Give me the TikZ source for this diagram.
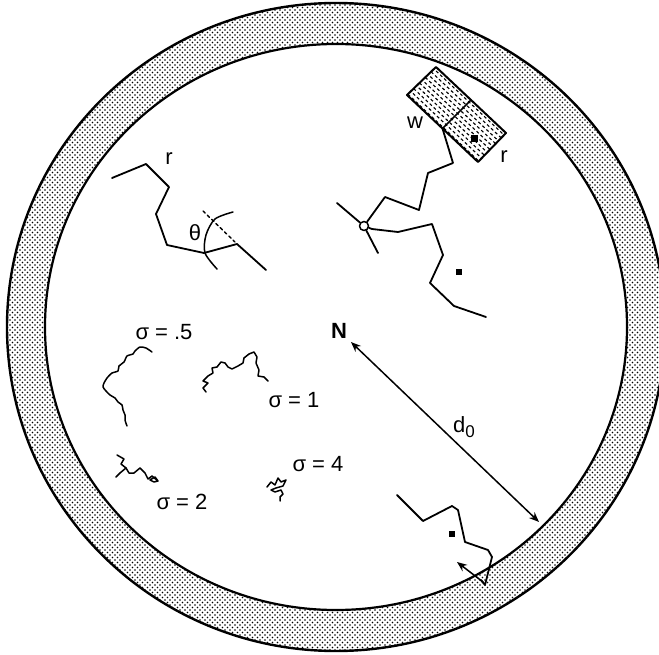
\documentclass[tikz,border=0pt]{standalone}
\usepackage{fontspec}
\setmainfont{Liberation Sans}
\usetikzlibrary{patterns,calc,arrows.meta}
\pgfdeclarepatternformonly{stipple}{\pgfpoint{-1pt}{-1pt}}{\pgfpoint{4pt}{4pt}}{\pgfpoint{5pt}{5pt}}{
  \pgfpathcircle{\pgfpoint{0pt}{0pt}}{0.8pt}
  \pgfpathcircle{\pgfpoint{2.5pt}{2.5pt}}{0.8pt}
  \pgfusepath{fill}}
\begin{document}
\begin{tikzpicture}[x=1pt,y=-1pt, line join=round, line cap=round,
  chain/.style={line width=1.8pt},
  wig/.style={line width=1.5pt},
  lbl/.style={font=\fontsize{22}{26}\selectfont, inner sep=0pt},
  tip/.style={line width=1.5pt},
  sq/.style={fill=black, minimum size=6pt, inner sep=0pt, draw=none}]
\useasboundingbox (0,0) rectangle (659,655);
\fill[white] (0,0) rectangle (659,655);
% ring
\fill[pattern=stipple, even odd rule]
  (336,327) ellipse [x radius=329, y radius=324]
  (336,327) ellipse [x radius=291, y radius=283];
\draw[line width=2.4pt] (336,327) ellipse [x radius=329, y radius=324];
\draw[line width=2.2pt] (336,327) ellipse [x radius=291, y radius=283];

% top-left chain with angle
\draw[chain] (112,178) -- (146,164) -- (169,187) -- (156,214) -- (167,245)
  -- (204,253) -- (237,244) -- (266,270);
\draw[line width=1.4pt, dash pattern=on 3pt off 3pt] (203,211) -- (235,242);
\draw[line width=1.5pt] plot[smooth] coordinates {(233,212) (215,219) (206,235) (205,253) (217,269)};
\node[lbl] (r1) at (169,159) {r};
\node[lbl] (th) at (195,233) {θ};

% top-right: rectangle with dashes
\coordinate (A) at (436,67);
\coordinate (B) at (407,95);
\coordinate (C) at (478,162);
\coordinate (D) at (506,133);
\begin{scope}
\clip (A) -- (B) -- (C) -- (D) -- cycle;
\foreach \t [count=\k] in {0.07,0.17,...,0.97} {
  \pgfmathsetmacro{\ph}{mod(\k,2)*2.5}
  \draw[line width=1.1pt, dash pattern=on 3pt off 2.5pt, dash phase=\ph pt, line cap=butt]
    ($(A)!\t!(B)$) -- ($(D)!\t!(C)$);
}
\end{scope}
\draw[line width=2pt] (A) -- (B) -- (C) -- (D) -- cycle;
\draw[line width=1.7pt] ($(A)!0.5!(D)$) -- ($(B)!0.5!(C)$);
\node[sq, minimum size=7pt] (sqr) at (474,139) {};
\node[lbl] (w) at (415,123) {w};
\node[lbl] (r2) at (504,157) {r};

\coordinate (m) at ($(B)!0.5!(C)$);
\node[circle, draw, line width=1.5pt, fill=white, minimum size=9pt, inner sep=0pt] (ring) at (364,226) {};
\draw[chain] (m) -- (453,163) -- (428,173) -- (419,210) -- (385,197) -- (ring);
\draw[chain] (337,203) -- (ring) -- (378,253);
\draw[chain] (ring) -- (372,229) -- (398,232) -- (432,224) -- (443,255) -- (430,283)
  -- (454,306) -- (486,317);
\node[sq] (sq2) at (459,272) {};

% N and d0
\node[lbl, font=\fontsize{22}{26}\selectfont\bfseries] (N) at (339,331) {N};
\coordinate (a1) at (351,342);
\coordinate (a2) at (539,522);
\draw[tip, {Stealth[length=10pt,width=8pt]}-{Stealth[length=10pt,width=8pt]}] (a1) -- (a2);
\node[lbl] (d0) at (464,427) {d\raisebox{-0.45ex}{\fontsize{17}{20}\selectfont 0}};

% bottom-right chain
\draw[chain] (397,495) -- (423,521) -- (452,506) -- (458,510) -- (465,542) -- (488,550)
  -- (492,557) -- (485,585) -- (481,580);
\node[sq] (sq3) at (452,534) {};
\coordinate (b1) at (483,582);
\coordinate (b2) at (457,562);
\draw[tip, -{Stealth[length=10pt,width=8pt]}] (b1) -- (b2);

% sigma walks
\node[lbl] (s05) at (164,332) {σ = .5};
\draw[wig] plot[smooth, tension=0.4] coordinates {(152,352) (146,348) (140,347) (135,351) (133,354)
  (127,356) (124,362) (119,366) (118,371) (112,373) (107,378) (104,383) (103,387) (106,391)
  (110,395) (115,398) (118,402) (122,405) (123,410) (125,415) (125,420) (127,426)};

\node[lbl] (s1) at (294,400) {σ = 1};
\draw[wig] (206,392) -- (203,388) -- (208,383) -- (203,381) -- (208,376) -- (213,373)
  -- (212,368) -- (217,367) -- (221,362) -- (225,363) -- (228,367) -- (232,369)
  -- (238,366) -- (243,363) -- (244,358) -- (249,354) -- (254,352) -- (257,357)
  -- (256,363) -- (259,370) -- (258,376) -- (264,377) -- (268,381);

\node[lbl] (s2) at (182,502) {σ = 2};
\draw[wig] (117,455) -- (124,459) -- (121,464) -- (126,468) -- (120,473) -- (116,477);
\draw[wig] (126,468) -- (129,473) -- (134,473) -- (140,468) -- (145,473) -- (148,479)
  -- (152,476) -- (158,481) -- (155,477) -- (150,480) -- (154,482) -- (158,481);

\node[lbl] (s4) at (318,464) {σ = 4};
\draw[wig] (267,487) -- (271,482) -- (275,485) -- (278,478) -- (281,482) -- (286,480)
  -- (283,486) -- (276,488) -- (271,490) -- (275,492) -- (281,490) -- (283,494)
  -- (280,497) -- (280,501);
\end{tikzpicture}
\end{document}
